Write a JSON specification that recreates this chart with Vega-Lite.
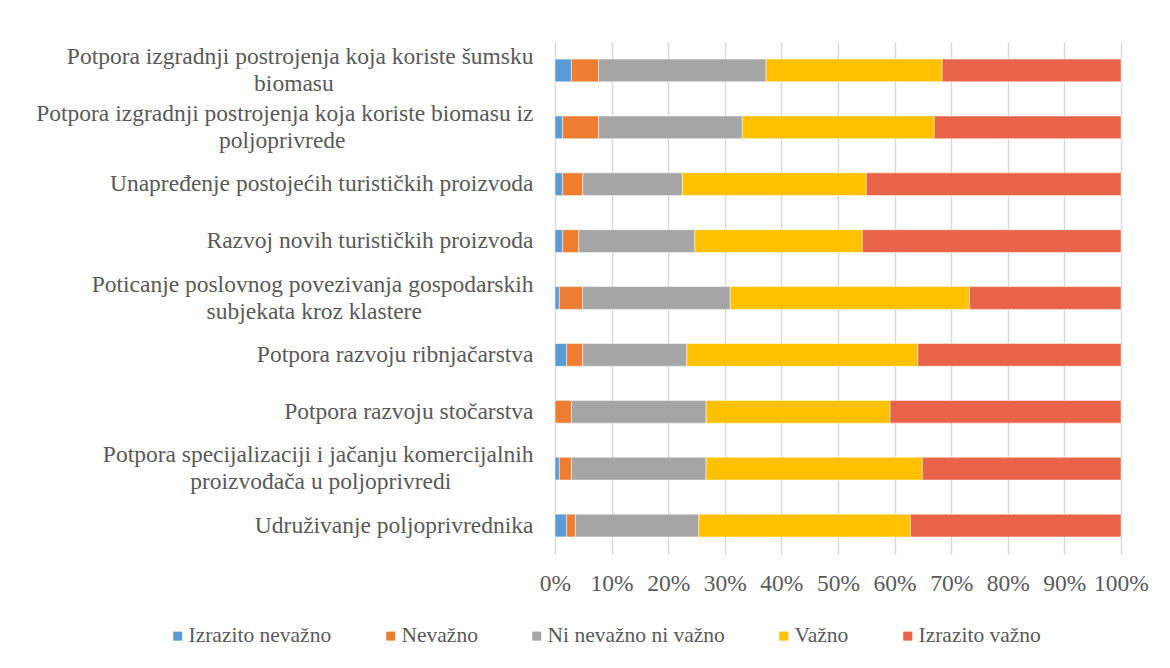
{
  "$schema": "https://vega.github.io/schema/vega-lite/v6.json",
  "width": 566,
  "height": 512,
  "autosize": "none",
  "padding": {"left": 555, "top": 42, "right": 49, "bottom": 114},
  "background": "white",
  "config": {
    "view": {"stroke": null},
    "font": "Liberation Serif, Times New Roman, Tinos, DejaVu Serif, serif"
  },
  "data": {
    "values": [
      {"k": "Potpora izgradnji postrojenja koja koriste šumsku biomasu", "s": "Izrazito nevažno", "o": 1, "v": 2.9},
      {"k": "Potpora izgradnji postrojenja koja koriste šumsku biomasu", "s": "Nevažno", "o": 2, "v": 4.8},
      {"k": "Potpora izgradnji postrojenja koja koriste šumsku biomasu", "s": "Ni nevažno ni važno", "o": 3, "v": 29.6},
      {"k": "Potpora izgradnji postrojenja koja koriste šumsku biomasu", "s": "Važno", "o": 4, "v": 31.1},
      {"k": "Potpora izgradnji postrojenja koja koriste šumsku biomasu", "s": "Izrazito važno", "o": 5, "v": 31.6},
      {"k": "Potpora izgradnji postrojenja koja koriste biomasu iz poljoprivrede", "s": "Izrazito nevažno", "o": 1, "v": 1.35},
      {"k": "Potpora izgradnji postrojenja koja koriste biomasu iz poljoprivrede", "s": "Nevažno", "o": 2, "v": 6.35},
      {"k": "Potpora izgradnji postrojenja koja koriste biomasu iz poljoprivrede", "s": "Ni nevažno ni važno", "o": 3, "v": 25.4},
      {"k": "Potpora izgradnji postrojenja koja koriste biomasu iz poljoprivrede", "s": "Važno", "o": 4, "v": 33.9},
      {"k": "Potpora izgradnji postrojenja koja koriste biomasu iz poljoprivrede", "s": "Izrazito važno", "o": 5, "v": 33.0},
      {"k": "Unapređenje postojećih turističkih proizvoda", "s": "Izrazito nevažno", "o": 1, "v": 1.35},
      {"k": "Unapređenje postojećih turističkih proizvoda", "s": "Nevažno", "o": 2, "v": 3.55},
      {"k": "Unapređenje postojećih turističkih proizvoda", "s": "Ni nevažno ni važno", "o": 3, "v": 17.6},
      {"k": "Unapređenje postojećih turističkih proizvoda", "s": "Važno", "o": 4, "v": 32.5},
      {"k": "Unapređenje postojećih turističkih proizvoda", "s": "Izrazito važno", "o": 5, "v": 45.0},
      {"k": "Razvoj novih turističkih proizvoda", "s": "Izrazito nevažno", "o": 1, "v": 1.35},
      {"k": "Razvoj novih turističkih proizvoda", "s": "Nevažno", "o": 2, "v": 2.85},
      {"k": "Razvoj novih turističkih proizvoda", "s": "Ni nevažno ni važno", "o": 3, "v": 20.5},
      {"k": "Razvoj novih turističkih proizvoda", "s": "Važno", "o": 4, "v": 29.6},
      {"k": "Razvoj novih turističkih proizvoda", "s": "Izrazito važno", "o": 5, "v": 45.7},
      {"k": "Poticanje poslovnog povezivanja gospodarskih subjekata kroz klastere", "s": "Izrazito nevažno", "o": 1, "v": 0.76},
      {"k": "Poticanje poslovnog povezivanja gospodarskih subjekata kroz klastere", "s": "Nevažno", "o": 2, "v": 4.1},
      {"k": "Poticanje poslovnog povezivanja gospodarskih subjekata kroz klastere", "s": "Ni nevažno ni važno", "o": 3, "v": 26.1},
      {"k": "Poticanje poslovnog povezivanja gospodarskih subjekata kroz klastere", "s": "Važno", "o": 4, "v": 42.3},
      {"k": "Poticanje poslovnog povezivanja gospodarskih subjekata kroz klastere", "s": "Izrazito važno", "o": 5, "v": 26.74},
      {"k": "Potpora razvoju ribnjačarstva", "s": "Izrazito nevažno", "o": 1, "v": 2.05},
      {"k": "Potpora razvoju ribnjačarstva", "s": "Nevažno", "o": 2, "v": 2.85},
      {"k": "Potpora razvoju ribnjačarstva", "s": "Ni nevažno ni važno", "o": 3, "v": 18.4},
      {"k": "Potpora razvoju ribnjačarstva", "s": "Važno", "o": 4, "v": 40.8},
      {"k": "Potpora razvoju ribnjačarstva", "s": "Izrazito važno", "o": 5, "v": 35.9},
      {"k": "Potpora razvoju stočarstva", "s": "Izrazito nevažno", "o": 1, "v": 0},
      {"k": "Potpora razvoju stočarstva", "s": "Nevažno", "o": 2, "v": 2.9},
      {"k": "Potpora razvoju stočarstva", "s": "Ni nevažno ni važno", "o": 3, "v": 23.8},
      {"k": "Potpora razvoju stočarstva", "s": "Važno", "o": 4, "v": 32.5},
      {"k": "Potpora razvoju stočarstva", "s": "Izrazito važno", "o": 5, "v": 40.8},
      {"k": "Potpora specijalizaciji i jačanju komercijalnih proizvođača u poljoprivredi", "s": "Izrazito nevažno", "o": 1, "v": 0.76},
      {"k": "Potpora specijalizaciji i jačanju komercijalnih proizvođača u poljoprivredi", "s": "Nevažno", "o": 2, "v": 2.14},
      {"k": "Potpora specijalizaciji i jačanju komercijalnih proizvođača u poljoprivredi", "s": "Ni nevažno ni važno", "o": 3, "v": 23.8},
      {"k": "Potpora specijalizaciji i jačanju komercijalnih proizvođača u poljoprivredi", "s": "Važno", "o": 4, "v": 38.2},
      {"k": "Potpora specijalizaciji i jačanju komercijalnih proizvođača u poljoprivredi", "s": "Izrazito važno", "o": 5, "v": 35.1},
      {"k": "Udruživanje poljoprivrednika", "s": "Izrazito nevažno", "o": 1, "v": 2.05},
      {"k": "Udruživanje poljoprivrednika", "s": "Nevažno", "o": 2, "v": 1.55},
      {"k": "Udruživanje poljoprivrednika", "s": "Ni nevažno ni važno", "o": 3, "v": 21.8},
      {"k": "Udruživanje poljoprivrednika", "s": "Važno", "o": 4, "v": 37.4},
      {"k": "Udruživanje poljoprivrednika", "s": "Izrazito važno", "o": 5, "v": 37.2}
    ]
  },
  "mark": {"type": "bar", "stroke": "white", "strokeWidth": 0.5},
  "encoding": {
    "y": {
      "field": "k",
      "type": "nominal",
      "sort": null,
      "scale": {"paddingInner": 0.6, "paddingOuter": 0.3},
      "axis": {
        "title": null,
        "domain": false,
        "ticks": false,
        "labelFont": "Liberation Serif, Times New Roman, Tinos, DejaVu Serif, serif",
        "labelFontSize": 23.5,
        "labelColor": "#595959",
        "labelPadding": 22,
        "labelLimit": 600,
        "labelLineHeight": 27,
        "labelAlign": "right",
        "labelOffset": {"condition": {"test": "length(datum.label) > 50", "value": -13.5}, "value": 0},
        "labelExpr": "datum.label == 'Potpora izgradnji postrojenja koja koriste šumsku biomasu' ? ['Potpora izgradnji postrojenja koja koriste šumsku', 'biomasu\u00a0\u00a0\u00a0\u00a0\u00a0\u00a0\u00a0\u00a0\u00a0\u00a0\u00a0\u00a0\u00a0\u00a0\u00a0\u00a0\u00a0\u00a0\u00a0\u00a0\u00a0\u00a0\u00a0\u00a0\u00a0\u00a0\u00a0\u00a0\u00a0\u00a0\u00a0\u00a0\u00a0\u00a0\u200b'] : datum.label == 'Potpora izgradnji postrojenja koja koriste biomasu iz poljoprivrede' ? ['Potpora izgradnji postrojenja koja koriste biomasu iz', 'poljoprivrede\u00a0\u00a0\u00a0\u00a0\u00a0\u00a0\u00a0\u00a0\u00a0\u00a0\u00a0\u00a0\u00a0\u00a0\u00a0\u00a0\u00a0\u00a0\u00a0\u00a0\u00a0\u00a0\u00a0\u00a0\u00a0\u00a0\u00a0\u00a0\u00a0\u00a0\u00a0\u00a0\u200b'] : datum.label == 'Poticanje poslovnog povezivanja gospodarskih subjekata kroz klastere' ? ['Poticanje poslovnog povezivanja gospodarskih', 'subjekata kroz klastere\u00a0\u00a0\u00a0\u00a0\u00a0\u00a0\u00a0\u00a0\u00a0\u00a0\u00a0\u00a0\u00a0\u00a0\u00a0\u00a0\u00a0\u00a0\u00a0\u200b'] : datum.label == 'Potpora specijalizaciji i jačanju komercijalnih proizvođača u poljoprivredi' ? ['Potpora specijalizaciji i jačanju komercijalnih', 'proizvođača u poljoprivredi\u00a0\u00a0\u00a0\u00a0\u00a0\u00a0\u00a0\u00a0\u00a0\u00a0\u00a0\u00a0\u00a0\u00a0\u200b'] : datum.label"
      }
    },
    "x": {
      "field": "v",
      "type": "quantitative",
      "stack": "normalize",
      "scale": {"domain": [0, 1], "nice": false},
      "axis": {
        "title": null,
        "format": ".0%",
        "values": [0, 0.1, 0.2, 0.3, 0.4, 0.5, 0.6, 0.7, 0.8, 0.9, 1],
        "domain": false,
        "ticks": false,
        "grid": true,
        "gridColor": "#d9d9d9",
        "gridWidth": 1.5,
        "labelFont": "Liberation Serif, Times New Roman, Tinos, DejaVu Serif, serif",
        "labelFontSize": 23.5,
        "labelColor": "#595959",
        "labelPadding": 17,
        "labelFlush": false,
        "labelOverlap": false
      }
    },
    "color": {
      "field": "s",
      "type": "nominal",
      "sort": ["Izrazito nevažno", "Nevažno", "Ni nevažno ni važno", "Važno", "Izrazito važno"],
      "scale": {
        "domain": ["Izrazito nevažno", "Nevažno", "Ni nevažno ni važno", "Važno", "Izrazito važno"],
        "range": ["#5B9BD5", "#ED7D31", "#A5A5A5", "#FFC000", "#E96348"]
      },
      "legend": {
        "title": null,
        "orient": "none",
        "direction": "horizontal",
        "columns": 5,
        "legendX": -388,
        "legendY": 583,
        "padding": 0,
        "symbolType": "square",
        "symbolSize": 81,
        "symbolStrokeWidth": 0,
        "labelFont": "Liberation Serif, Times New Roman, Tinos, DejaVu Serif, serif",
        "labelFontSize": 21.5,
        "labelColor": "#595959",
        "labelOffset": 0,
        "columnPadding": 48,
        "labelLimit": 400
      }
    },
    "order": {"field": "o", "type": "quantitative"}
  }
}
